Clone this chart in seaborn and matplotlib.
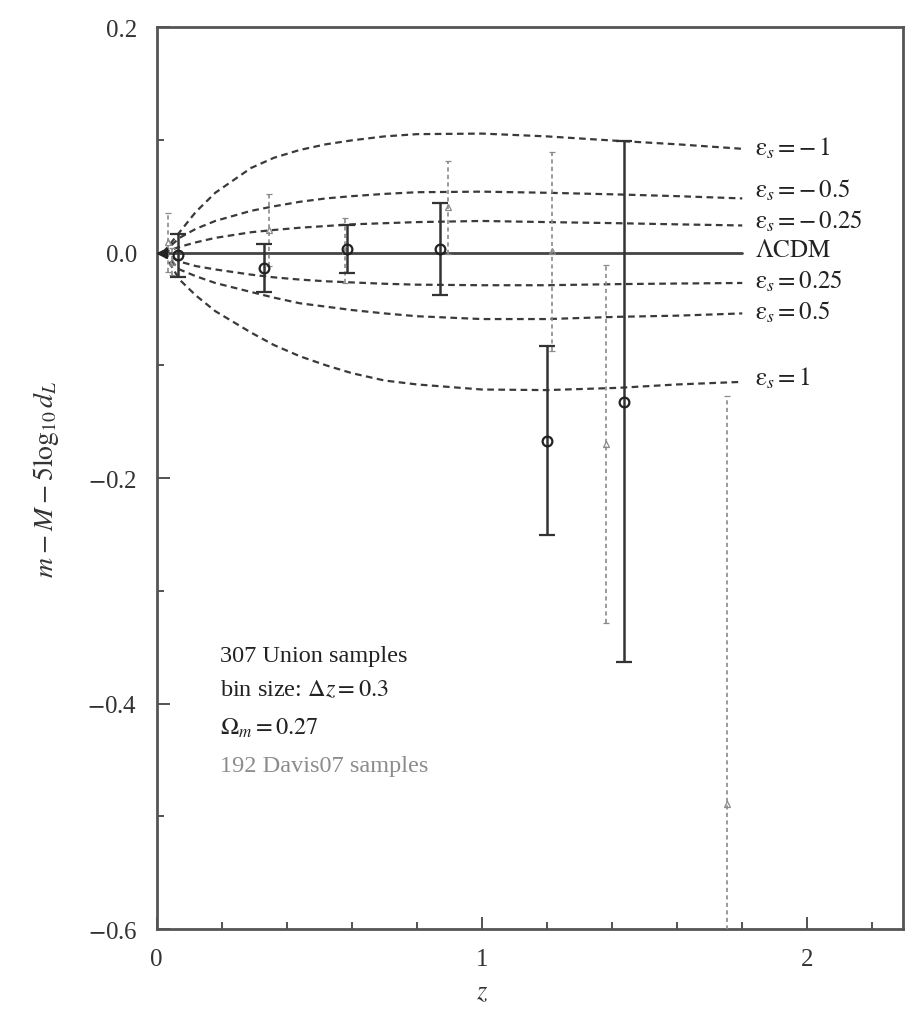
import numpy as np
import pandas as pd
import matplotlib
matplotlib.use("Agg")
import matplotlib.pyplot as plt
import seaborn as sns
from matplotlib.ticker import MultipleLocator

# ---------------- data ----------------
curve_z = [0.02, 0.07, 0.12, 0.18, 0.29, 0.36, 0.44, 0.52, 0.60, 0.70, 0.80, 1.00, 1.20, 1.42, 1.60, 1.80]
eps_m1 = [0.0, 0.018, 0.036, 0.053, 0.075, 0.084, 0.091, 0.096, 0.0995, 0.103, 0.105, 0.1055, 0.103, 0.099, 0.096, 0.092]
eps_m05 = [0.0, 0.013, 0.021, 0.028, 0.037, 0.041, 0.045, 0.048, 0.050, 0.052, 0.0535, 0.054, 0.053, 0.0515, 0.050, 0.048]
eps_m025 = [0.0, 0.005, 0.009, 0.013, 0.018, 0.020, 0.022, 0.0235, 0.025, 0.026, 0.027, 0.028, 0.027, 0.026, 0.025, 0.024]
eps_lcdm = [0.0] * 16
eps_p025 = [0.0, -0.008, -0.012, -0.015, -0.0196, -0.022, -0.024, -0.0255, -0.0265, -0.0277, -0.0285, -0.029, -0.029, -0.028, -0.0275, -0.027]
eps_p05 = [0.0, -0.015, -0.021, -0.027, -0.035, -0.040, -0.045, -0.048, -0.051, -0.054, -0.0565, -0.059, -0.059, -0.057, -0.056, -0.054]
eps_p1 = [0.0, -0.024, -0.038, -0.052, -0.071, -0.082, -0.092, -0.100, -0.107, -0.1135, -0.117, -0.1215, -0.122, -0.120, -0.117, -0.1147]

curve_labels = [r"$\mathrm{\varepsilon}_s = -\,1$", r"$\mathrm{\varepsilon}_s = -\,0.5$",
                r"$\mathrm{\varepsilon}_s = -\,0.25$", r"$\Lambda\mathrm{CDM}$",
                r"$\mathrm{\varepsilon}_s = 0.25$", r"$\mathrm{\varepsilon}_s = 0.5$",
                r"$\mathrm{\varepsilon}_s = 1$"]
label_y = [0.093, 0.056, 0.0285, 0.002, -0.0245, -0.0525, -0.1105]

union_z = [0.065, 0.33, 0.585, 0.87, 1.199, 1.435]
union_y = [-0.0025, -0.0135, 0.003, 0.003, -0.1668, -0.1325]
union_err = [0.019, 0.0215, 0.021, 0.041, 0.0835, 0.231]
union_first_z = [0.015]
union_first_y = [0.0]

davis_z = [0.035, 0.048, 0.345, 0.58, 0.895, 1.214, 1.3815, 1.753]
davis_y = [0.009, -0.008, 0.020, 0.002, 0.040, 0.001, -0.1697, -0.489]
davis_err = [0.026, 0.012, 0.032, 0.029, 0.041, 0.088, 0.159, 0.362]

info_lines = ["307 Union samples", r"bin size: $\Delta z = 0.3$", r"$\Omega_m = 0.27$",
              "192 Davis07 samples"]
info_y = [-0.357, -0.388, -0.421, -0.455]

# ---------------- style ----------------
sns.set_theme(style="ticks")
plt.rcParams["font.family"] = ["Liberation Serif", "DejaVu Serif"]
plt.rcParams["mathtext.fontset"] = "stix"

fig = plt.figure(figsize=(9.06, 10.12), dpi=100)
ax = fig.add_axes([0.173, 0.081, 0.824, 0.8913])

series = [eps_m1, eps_m05, eps_m025, eps_lcdm, eps_p025, eps_p05, eps_p1]
names = ["m1", "m05", "m025", "lcdm", "p025", "p05", "p1"]
df = pd.DataFrame({
    "z": np.concatenate([curve_z] * len(series)),
    "dm": np.concatenate(series),
    "model": np.repeat(names, len(curve_z)),
})
dash_map = {n: (3, 2) for n in names}
dash_map["lcdm"] = ""
sns.lineplot(data=df, x="z", y="dm", hue="model", style="model", dashes=dash_map,
             palette={n: "#3a3a3a" for n in names}, estimator=None, sort=False,
             legend=False, ax=ax, linewidth=1.6)
# ΛCDM solid line thicker
for ln in ax.lines:
    if ln.get_linestyle() == "-":
        ln.set_linewidth(2.0)
        ln.set_color("#444444")

# Davis07 points (gray, dashed bars)
eb = ax.errorbar(davis_z, davis_y, yerr=davis_err, fmt="^", ms=4.5, mfc="none",
                 mec="#8a8a8a", mew=0.9, ecolor="#8a8a8a", elinewidth=1.2,
                 capsize=2.5, capthick=1.0, zorder=3)
for c in eb[2]:
    c.set_linestyle((0, (2.5, 2)))

# Union points (black)
ax.errorbar(union_z, union_y, yerr=union_err, fmt="o", ms=7, mfc="none",
            mec="#222222", mew=1.6, ecolor="#333333", elinewidth=1.8,
            capsize=5.5, capthick=1.6, zorder=4)
ax.plot(union_first_z, union_first_y, marker="<", ms=7, color="#222222",
        linestyle="none", zorder=5)

# curve labels
for lab, yv in zip(curve_labels, label_y):
    ax.text(1.84, yv, lab, fontsize=18, va="center", ha="left", color="#222222")

# info text
for i, (t, yv) in enumerate(zip(info_lines, info_y)):
    ax.text(0.194, yv, t, fontsize=17.5, va="center", ha="left",
            color="#8c8c8c" if i == 3 else "#222222")

ax.set_xlim(0, 2.295)
ax.set_ylim(-0.6, 0.2)
ax.xaxis.set_major_locator(MultipleLocator(1))
ax.xaxis.set_minor_locator(MultipleLocator(0.2))
ax.yaxis.set_major_locator(MultipleLocator(0.2))
ax.yaxis.set_minor_locator(MultipleLocator(0.1))
ax.set_xticks([0, 1, 2])
ax.set_xticklabels(["0", "1", "2"])
ax.set_yticks([-0.6, -0.4, -0.2, 0.0, 0.2])
ax.set_yticklabels([r"$-$0.6", r"$-$0.4", r"$-$0.2", "0.0", "0.2"])
ax.tick_params(which="both", direction="in", colors="#444444", labelcolor="#333333",
               labelsize=18, width=1.3, top=False, right=False)
ax.tick_params(which="major", length=9, pad=14)
ax.tick_params(which="minor", length=5)

for sp in ax.spines.values():
    sp.set_visible(True)
    sp.set_color("#555555")
    sp.set_linewidth(2.0)

ax.set_xlabel(r"$z$", fontsize=19, color="#333333")
ax.xaxis.set_label_coords((482 - 157) / (903 - 157), -0.058)
ax.set_ylabel(r"$m - M - 5\mathrm{log}_{10}\,d_L$", fontsize=20, color="#333333")
ax.yaxis.set_label_coords(-0.128, 0.5)

fig.savefig("out.png", dpi=100)
